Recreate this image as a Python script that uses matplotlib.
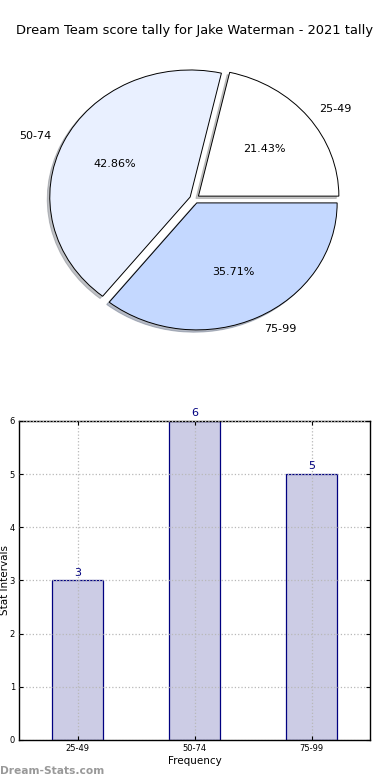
import matplotlib
matplotlib.use("Agg")
import matplotlib.pyplot as plt

title = "Dream Team score tally for Jake Waterman - 2021 tally"
intervals = ["25-49", "50-74", "75-99"]
counts = [3, 6, 5]
pie_colors = ["#ffffff", "#e9f0ff", "#c4d8ff"]

fig = plt.figure(figsize=(3.9, 7.8), dpi=100)

# pie on top
ax1 = fig.add_axes([0.049, 0.5415, 0.9, 0.407])
wedges, texts, autotexts = ax1.pie(counts, labels=intervals, colors=pie_colors,
                                   explode=[0.035] * len(counts),
                                   shadow={"ox": -0.013, "oy": -0.013, "shade": 0.45},
                                   autopct="%1.2f%%", startangle=0,
                                   labeldistance=1.1, pctdistance=0.6,
                                   wedgeprops={"edgecolor": "black", "linewidth": 0.7},
                                   textprops={"fontsize": 8})
ax1.set_aspect("auto")
ax1.set_xlim(-1.25, 1.25)
ax1.set_ylim(-1.25, 1.25)
ax1.axis("off")
fig.text(0.5, 0.961, title, ha="center", va="center", fontsize=9.4)

# bar chart below
ax2 = fig.add_axes([0.049, 0.0513, 0.9, 0.409])
x = range(len(intervals))
ax2.bar(x, counts, width=0.44, color="navy", alpha=0.2, zorder=1)
ax2.bar(x, counts, width=0.44, facecolor="none", edgecolor="navy", linewidth=0.9, zorder=2)
for xi, c in zip(x, counts):
    ax2.annotate(str(c), (xi, c), xytext=(0, 2), textcoords="offset points",
                 ha="center", va="bottom", color="navy", fontsize=8)
ax2.set_xlim(-0.5, 2.5)
ax2.set_ylim(0, 6)
ax2.set_xticks(list(x))
ax2.set_xticklabels(intervals)
ax2.set_yticks(range(7))
ax2.tick_params(labelsize=6, direction="in", top=True, right=True, length=3, pad=3)
ax2.grid(True, linestyle=":", color="#b8b8b8", linewidth=0.9, zorder=3)
ax2.set_axisbelow(False)
ax2.set_xlabel("Frequency", fontsize=7.5, labelpad=2)
ax2.set_ylabel("Stat Intervals", fontsize=7.5, labelpad=0)
for s in ax2.spines.values():
    s.set_linewidth(1)

fig.text(0.0, 0.012, "Dream-Stats.com", color="#999999", fontsize=7.7,
         fontweight="bold", ha="left", va="center")

fig.savefig("out.png", dpi=100)
